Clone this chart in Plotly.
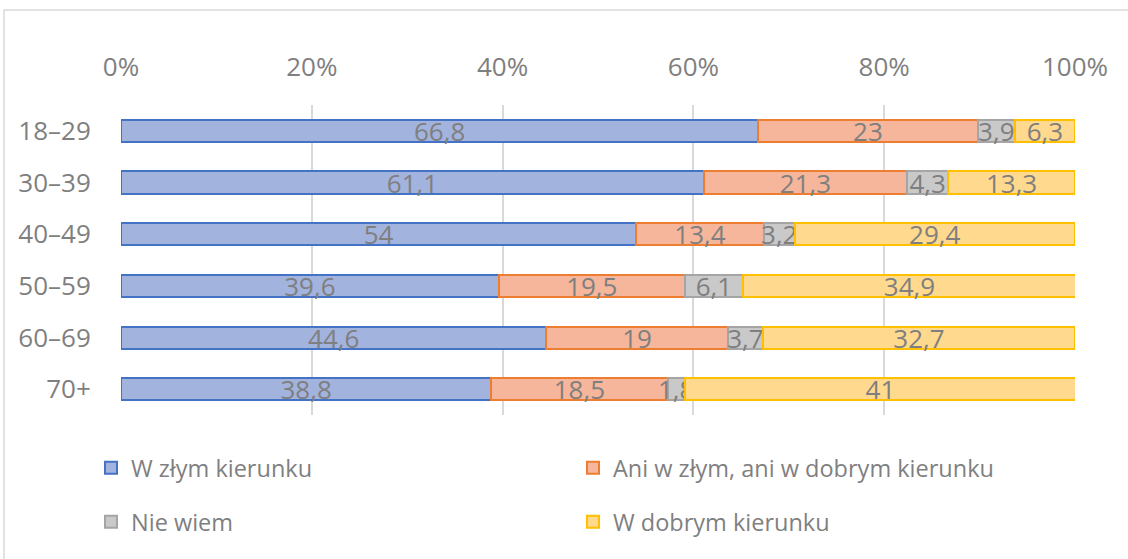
import plotly.graph_objects as go

categories = ["18–29", "30–39", "40–49", "50–59", "60–69", "70+"]
series_names = ["W złym kierunku", "Ani w złym, ani w dobrym kierunku", "Nie wiem", "W dobrym kierunku"]
zly = [66.8, 61.1, 54, 39.6, 44.6, 38.8]
ani = [23, 21.3, 13.4, 19.5, 19, 18.5]
nie_wiem = [3.9, 4.3, 3.2, 6.1, 3.7, 1.8]
dobry = [6.3, 13.3, 29.4, 34.9, 32.7, 41]
tick_vals = [0, 20, 40, 60, 80, 100]
tick_text = ["0%", "20%", "40%", "60%", "80%", "100%"]

fills = ["#a2b3de", "#f5b69b", "#c9c9c9", "#ffd98e"]
lines = ["#4472c4", "#ed7d31", "#a5a5a5", "#ffc000"]
legend_ids = ["legend", "legend", "legend2", "legend2"]

FONT = "Open Sans"
GRAY = "#7f7f7f"

def fmt(v):
    return f"{v:g}".replace(".", ",")

fig = go.Figure()
for name, vals, fc, lc, lg in zip(series_names, [zly, ani, nie_wiem, dobry], fills, lines, legend_ids):
    fig.add_trace(go.Bar(
        name=name, y=categories, x=vals, orientation="h",
        marker=dict(color=fc, line=dict(color=lc, width=2)),
        text=[fmt(v) for v in vals], textposition="inside", textangle=0,
        insidetextanchor="middle", constraintext="none",
        textfont=dict(family=FONT, size=26, color=GRAY),
        hoverinfo="skip", legend=lg,
    ))

W, H = 1128, 559
PL, PR, PT, PB = 121, 1075, 105, 415
pw, ph = PR - PL, PB - PT

def px_x(p):
    return (p - PL) / pw

def px_y(p):
    return (PB - p) / ph

fig.update_layout(
    width=W, height=H, barmode="stack", bargap=0.574,
    margin=dict(l=PL, r=W - PR, t=PT, b=H - PB),
    paper_bgcolor="white", plot_bgcolor="white",
    font=dict(family=FONT, size=24, color=GRAY),
    showlegend=True,
    legend=dict(orientation="h", x=px_x(91), y=px_y(468), xanchor="left", yanchor="middle",
                entrywidth=437, entrywidthmode="pixels", traceorder="normal",
                font=dict(family=FONT, size=23.5, color=GRAY), bgcolor="rgba(0,0,0,0)"),
    legend2=dict(orientation="h", x=px_x(91), y=px_y(522), xanchor="left", yanchor="middle",
                 entrywidth=437, entrywidthmode="pixels", traceorder="normal",
                 font=dict(family=FONT, size=23.5, color=GRAY), bgcolor="rgba(0,0,0,0)"),
    xaxis=dict(side="top", range=[0, 100], tickvals=tick_vals, ticktext=tick_text,
               showgrid=True, gridcolor="#d9d9d9", gridwidth=1.5, zeroline=False,
               showline=False, ticks="outside", ticklen=18, tickcolor="rgba(0,0,0,0)",
               tickfont=dict(family=FONT, size=26, color=GRAY), fixedrange=True),
    yaxis=dict(autorange="reversed", showgrid=False, zeroline=False, showline=False,
               ticks="outside", ticklen=24, tickcolor="rgba(0,0,0,0)",
               tickfont=dict(family=FONT, size=26, color=GRAY), fixedrange=True),
    shapes=[dict(type="rect", xref="paper", yref="paper",
                 x0=px_x(4), x1=px_x(1140), y0=px_y(570), y1=px_y(10),
                 line=dict(color="#d9d9d9", width=1.5), fillcolor="rgba(0,0,0,0)", layer="below")],
)

fig.write_html("out.html", config={"displayModeBar": False},
               post_script="document.body.style.margin='0px';")
